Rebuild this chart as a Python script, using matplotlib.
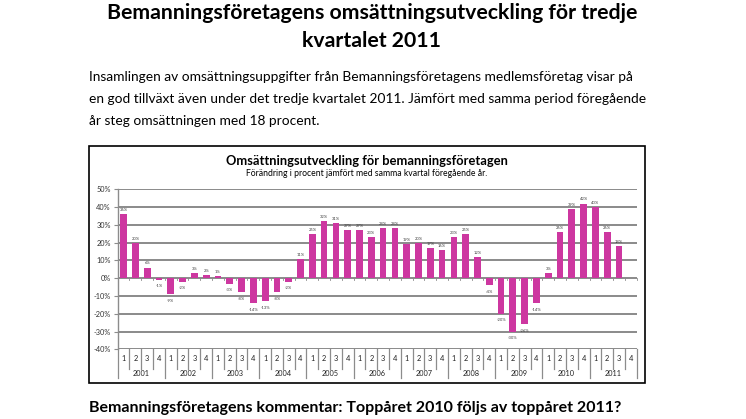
import numpy as np
import matplotlib.pyplot as plt
import matplotlib.transforms as mtransforms
from matplotlib.patches import Rectangle

plt.rcParams['font.family'] = ['Lato', 'DejaVu Sans']

years = ["2001", "2002", "2003", "2004", "2005", "2006",
         "2007", "2008", "2009", "2010", "2011"]
quarters = ["1", "2", "3", "4"]
# förändring i procent, kvartal för kvartal (2011 kv 4 saknas)
change = [36, 20, 6, -1,
          -9, -2, 3, 2,
          1, -3, -8, -14,
          -13, -8, -2, 11,
          25, 32, 31, 27,
          27, 23, 28, 28,
          19, 20, 17, 16,
          23, 25, 12, -4,
          -20, -30, -26, -14,
          3, 26, 39, 42,
          40, 26, 18, None]
yticks = [50, 40, 30, 20, 10, 0, -10, -20, -30, -40]

W, H = 746, 419
fig = plt.figure(figsize=(W / 100, H / 100), dpi=100)

def fx(px):
    return px / W

def fy(py):
    return 1 - py / H

# sidans text
fig.text(fx(372), fy(13), "Bemanningsföretagens omsättningsutveckling för tredje",
         ha="center", va="center", fontsize=15.3, fontweight="bold")
fig.text(fx(372), fy(41), "kvartalet 2011",
         ha="center", va="center", fontsize=15.3, fontweight="bold")
para = ["Insamlingen av omsättningsuppgifter från Bemanningsföretagens medlemsföretag visar på",
        "en god tillväxt även under det tredje kvartalet 2011. Jämfört med samma period föregående",
        "år steg omsättningen med 18 procent."]
for k, line in enumerate(para):
    fig.text(fx(89), fy(77 + 22 * k), line, ha="left", va="center", fontsize=9.95)
fig.text(fx(89), fy(408), "Bemanningsföretagens kommentar: Toppåret 2010 följs av toppåret 2011?",
         ha="left", va="center", fontsize=11.5, fontweight="bold")

# ram runt diagrammet
fig.add_artist(Rectangle((fx(88.5), fy(383)), fx(645) - fx(88.5), fy(146) - fy(383),
                         transform=fig.transFigure, fill=False, ec="black", lw=1.2))
fig.text(fx(367), fy(161), "Omsättningsutveckling för bemanningsföretagen",
         ha="center", va="center", fontsize=9.25, fontweight="bold")
fig.text(fx(367), fy(173.5), "Förändring i procent jämfört med samma kvartal föregående år.",
         ha="center", va="center", fontsize=6.2)

ax = fig.add_axes([fx(117.7), fy(349.3), fx(636.7) - fx(117.7), fy(189.3) - fy(349.3)])
n = len(change)
x = np.arange(n) + 0.5
vals = np.array([np.nan if v is None else v for v in change], dtype=float)
ax.bar(x, np.nan_to_num(vals), width=0.57, color="#cd37a0", zorder=3)

for xi, v in zip(x, change):
    if v is None:
        continue
    if v >= 0:
        ax.text(xi, v + 1.2, f"{v}%", ha="center", va="bottom", fontsize=3, color="#404040")
    else:
        ax.text(xi, v - 2.5, f"{v}%", ha="center", va="top", fontsize=3, color="#404040")

ax.set_xlim(0, n)
ax.set_ylim(-40, 50)
ax.set_yticks(yticks)
ax.set_yticklabels([f"{t}%" for t in yticks], fontsize=5.3, color="#333333")
ax.tick_params(axis="y", length=3, width=0.8, color="#8c8c8c", pad=2)
ax.grid(axis="y", color="#8a8a8a", lw=1.4, zorder=0)
ax.set_xticks([])
for s in ["top", "right", "bottom"]:
    ax.spines[s].set_visible(False)
ax.spines["left"].set_color("#8c8c8c")
ax.spines["left"].set_linewidth(1.0)

# små streck under nollinjen
for i in range(n + 1):
    ax.plot([i, i], [0, -0.9], color="#8c8c8c", lw=0.6, zorder=2, clip_on=False)

# kategoritabell under diagrammet
tr = mtransforms.blended_transform_factory(ax.transData, fig.transFigure)
for i in range(n + 1):
    bottom = 378 if i % 4 == 0 else 369
    ax.plot([i, i], [fy(349.3), fy(bottom)], transform=tr, color="#8c8c8c",
            lw=0.9, clip_on=False)
for i in range(n):
    ax.text(i + 0.5, fy(358), quarters[i % 4], transform=tr, ha="center",
            va="center", fontsize=5.3, color="#222222")
for j, yr in enumerate(years):
    ax.text(4 * j + 2, fy(373), yr, transform=tr, ha="center", va="center",
            fontsize=5.3, color="#222222")

fig.savefig("out.png", dpi=100)
plt.close(fig)
